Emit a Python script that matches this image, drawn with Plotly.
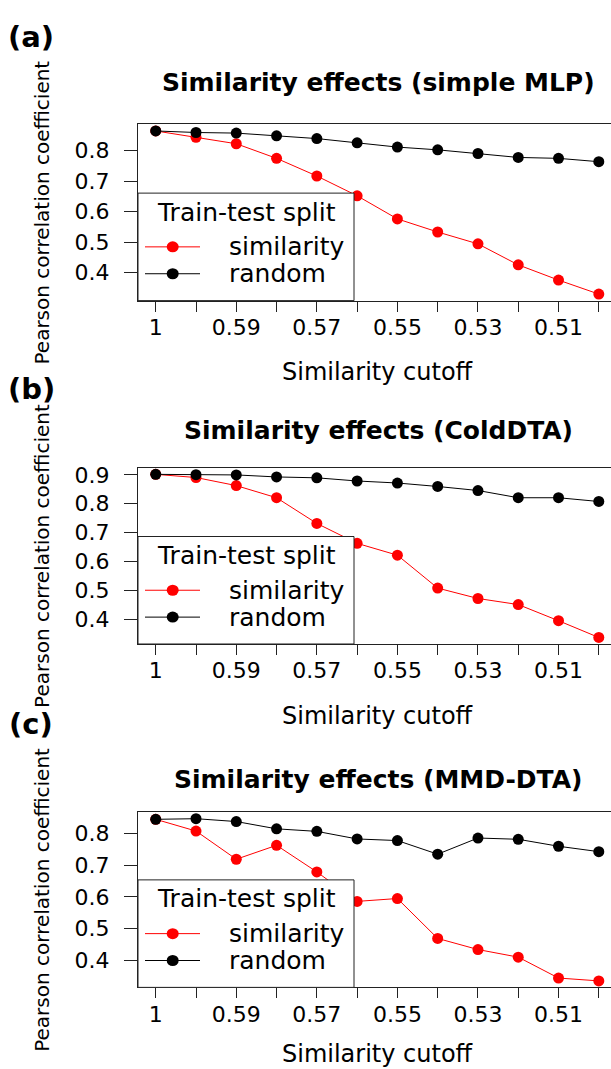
import plotly.graph_objects as go

# ---------------- data ----------------
cutoffs = ["1", "0.6", "0.59", "0.58", "0.57", "0.56", "0.55", "0.54", "0.53", "0.52", "0.51", "0.5"]
panel_labels = ["(a)", "(b)", "(c)"]
panel_titles = ["Similarity effects (simple MLP)",
                "Similarity effects (ColdDTA)",
                "Similarity effects (MMD-DTA)"]
series_names = ["similarity", "random"]

mlp_similarity = [0.865, 0.844, 0.823, 0.775, 0.717, 0.652, 0.576, 0.533, 0.494, 0.425, 0.375, 0.329]
mlp_random = [0.865, 0.860, 0.858, 0.849, 0.840, 0.826, 0.812, 0.803, 0.791, 0.778, 0.775, 0.764]

colddta_similarity = [0.902, 0.891, 0.863, 0.821, 0.732, 0.663, 0.622, 0.508, 0.472, 0.451, 0.395, 0.337]
colddta_random = [0.902, 0.901, 0.900, 0.893, 0.890, 0.879, 0.872, 0.860, 0.846, 0.821, 0.821, 0.808]

mmd_similarity = [0.845, 0.808, 0.719, 0.763, 0.679, 0.586, 0.595, 0.469, 0.434, 0.410, 0.344, 0.335]
mmd_random = [0.845, 0.847, 0.838, 0.815, 0.807, 0.783, 0.778, 0.735, 0.786, 0.782, 0.760, 0.743]

panels = [(mlp_similarity, mlp_random),
          (colddta_similarity, colddta_random),
          (mmd_similarity, mmd_random)]

# ---------------- layout constants (pixels) ----------------
W, H = 611, 1069
L = 138                      # left edge of plot boxes
PX_PER_CAT = 40.28
box_top = [120, 465, 811]
box_bot = [297, 642, 987]
label_y = [32, 386, 722]
title_y = [78, 428, 778]
FONT = "DejaVu Sans"
series_colors = ["#ff0000", "#000000"]


def X(px):
    return (px - L) / (W - L)


def Y(py):
    return 1 - py / H


xpos = list(range(1, len(cutoffs) + 1))
ticktext = [c if i % 2 == 0 else "" for i, c in enumerate(cutoffs)]
x_lo = 1 - 0.04 * (len(cutoffs) - 1)
x_hi = x_lo + (W - L) / PX_PER_CAT

fig = go.Figure()
layout = dict(
    width=W, height=H,
    margin=dict(l=L, r=0, t=0, b=0),
    paper_bgcolor="white", plot_bgcolor="white",
    showlegend=False,
    font=dict(family=FONT, color="black"),
)
annotations = []
shapes = []

for k, (sim, rnd) in enumerate(panels):
    sfx = "" if k == 0 else str(k + 1)
    xa, ya = "x" + sfx, "y" + sfx
    for name, vals, col in zip(series_names, (sim, rnd), series_colors):
        fig.add_trace(go.Scatter(
            x=xpos, y=vals, name=name, mode="lines+markers",
            line=dict(color=col, width=1),
            marker=dict(color=col, size=11),
            xaxis=xa, yaxis=ya, cliponaxis=False,
        ))
    allv = sim + rnd
    lo, hi = min(allv), max(allv)
    pad = 0.04 * (hi - lo)
    layout["xaxis" + sfx] = dict(
        domain=[0, 1], anchor=ya, range=[x_lo, x_hi],
        tickmode="array", tickvals=xpos, ticktext=ticktext,
        ticks="outside", ticklen=10, tickwidth=1, tickcolor="#222",
        showline=True, linecolor="#222", linewidth=1, mirror=True,
        showgrid=False, zeroline=False,
        tickfont=dict(family=FONT, size=22, color="black"),
        ticklabelstandoff=-3,
    )
    layout["yaxis" + sfx] = dict(
        domain=[Y(box_bot[k]), Y(box_top[k])], anchor=xa,
        range=[lo - pad, hi + pad],
        tickmode="linear", tick0=0.4, dtick=0.1, tickformat=".1f",
        ticks="outside", ticklen=13, tickwidth=1, tickcolor="#222",
        showline=True, linecolor="#222", linewidth=1, mirror=False,
        showgrid=False, zeroline=False,
        tickfont=dict(family=FONT, size=22, color="black"),
        ticklabelstandoff=10,
    )

    # panel label, title, axis titles
    annotations.append(dict(text="<b>" + panel_labels[k] + "</b>", x=X(31), y=Y(label_y[k]),
                            xref="paper", yref="paper", showarrow=False,
                            xanchor="center", yanchor="middle",
                            font=dict(family=FONT, size=29, color="black")))
    annotations.append(dict(text="<b>" + panel_titles[k] + "</b>", x=X(378), y=Y(title_y[k]),
                            xref="paper", yref="paper", showarrow=False,
                            xanchor="center", yanchor="middle",
                            font=dict(family=FONT, size=25, color="black")))
    annotations.append(dict(text="Similarity cutoff", x=X(377), y=Y(min(box_bot[k] + 72, H - 15)),
                            xref="paper", yref="paper", showarrow=False,
                            xanchor="center", yanchor="middle",
                            font=dict(family=FONT, size=24, color="black")))
    annotations.append(dict(text="Pearson correlation coefficient", x=X(42),
                            y=Y((box_top[k] + box_bot[k]) / 2),
                            xref="paper", yref="paper", showarrow=False, textangle=-90,
                            xanchor="center", yanchor="middle",
                            font=dict(family=FONT, size=20, color="black")))

    # legend (drawn on top of the data, like R's legend())
    b = box_bot[k]
    shapes.append(dict(type="rect", xref="paper", yref="paper",
                       x0=X(L), x1=X(354), y0=Y(b), y1=Y(b - 108),
                       fillcolor="white", line=dict(color="#222", width=1), layer="above"))
    annotations.append(dict(text="Train-test split", x=X(246), y=Y(b - 89),
                            xref="paper", yref="paper", showarrow=False,
                            xanchor="center", yanchor="middle",
                            font=dict(family=FONT, size=25, color="black")))
    for name, col, dy in zip(series_names, series_colors, (54, 27)):
        yy = Y(b - dy)
        shapes.append(dict(type="line", xref="paper", yref="paper",
                           x0=X(145), x1=X(200), y0=yy, y1=yy,
                           line=dict(color=col, width=1), layer="above"))
        shapes.append(dict(type="circle", xref="paper", yref="paper",
                           xsizemode="pixel", ysizemode="pixel",
                           xanchor=X(172.7), yanchor=yy,
                           x0=-6, x1=6, y0=-5.5, y1=5.5,
                           fillcolor=col, line=dict(color=col, width=0), layer="above"))
        annotations.append(dict(text=name, x=X(227), y=yy,
                                xref="paper", yref="paper", showarrow=False,
                                xanchor="left", yanchor="middle",
                                font=dict(family=FONT, size=25, color="black")))

layout["annotations"] = annotations
layout["shapes"] = shapes
fig.update_layout(**layout)
fig.write_html("out.html")
